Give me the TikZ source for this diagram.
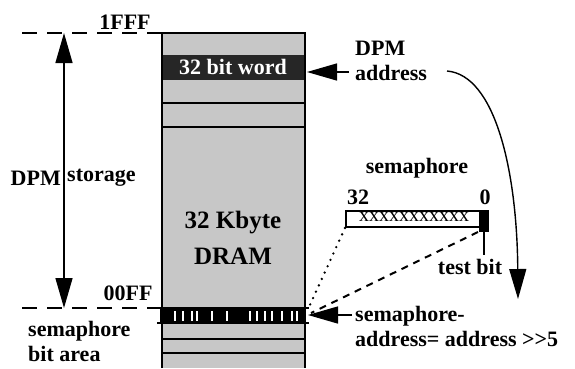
\documentclass[tikz,border=0pt]{standalone}
\usepackage{fontspec}
\setmainfont{Liberation Serif}
\usetikzlibrary{arrows.meta}

\begin{document}
\begin{tikzpicture}[x=1pt,y=-1pt,
  lbl/.style={font=\bfseries\fontsize{22}{25}\selectfont,align=left,inner sep=0pt},
  fat/.style={-{Triangle[length=30pt,width=17pt]},line width=1.4pt},
  levelline/.style={line width=1.2pt,dash pattern=on 15pt off 10pt}]
  \useasboundingbox (0,0) rectangle (575,368);
  % memory column
  \fill[black!22] (162,33) rectangle (305,368);
  \fill[black!85] (162,55) rectangle (305,80);
  \fill[black] (160,308) rectangle (306,323);
  \foreach \x in {175,183,192,197,212,227,250,257,265,272,282,292,297}
    \draw[white,line width=1.6pt] (\x,311) -- (\x,321);
  \foreach \y in {103,127,339,353}
    \draw[line width=1.2pt] (162,\y) -- (305,\y);
  \draw[line width=1.2pt] (157,308) -- (309,308);
  \draw[line width=1.2pt] (157,323) -- (309,323);
  \draw[line width=1.4pt] (162,368) -- (162,33) -- (305,33) -- (305,368);
  \node[lbl,white] (word) at (233,67) {32 bit word};
  \node[lbl,font=\bfseries\fontsize{25}{36}\selectfont,align=center] (dram) at (233,238) {32 Kbyte\\DRAM};
  % levels
  \coordinate (top) at (64,33);
  \coordinate (bot) at (64,308);
  \draw[levelline] (22,33) -- (162,33);
  \draw[levelline] (22,308) -- (162,308);
  \node[lbl] (hi) at (125,22) {1FFF};
  \node[lbl] (lo) at (128,293) {00FF};
  \draw[{Triangle[length=30pt,width=17pt]}-{Triangle[length=30pt,width=17pt]},line width=1.4pt] (top) -- (bot);
  \node[lbl,anchor=east] (dpm) at (61,178) {DPM};
  \node[lbl,anchor=west] (stor) at (67,178) {storage};
  \node[lbl,anchor=west] (bitarea) at (28,341) {semaphore\\bit area};
  % addresses
  \node[lbl,anchor=west] (addr) at (355,61) {DPM\\address};
  \coordinate (wordend) at (307,72);
  \draw[fat] (349,72) -- (wordend);
  \coordinate (cstart) at (447,71);
  \coordinate (cend) at (518,299);
  \draw[fat] (cstart) .. controls (495,75) and (517,170) .. (cend);
  % semaphore word
  \node[lbl] (sem) at (417,168) {semaphore};
  \node[lbl] (b32) at (358,197) {32};
  \node[lbl] (b0) at (485,197) {0};
  \draw[line width=1.2pt,fill=white] (346,211) rectangle (488,227);
  \node[inner sep=0pt,font=\fontsize{20}{20}\selectfont] (xs) at (414,217) {xxxxxxxxxxx};
  \fill[black] (479,210) rectangle (489,232);
  \coordinate (bitfoot) at (484,255);
  \draw[line width=1.4pt] (484,230) -- (bitfoot);
  \node[lbl] (test) at (470,267) {test bit};
  \coordinate (boxleft) at (345,228);
  \coordinate (bitleft) at (478,232);
  \coordinate (rowtop) at (309,307);
  \coordinate (rowmid) at (311,313);
  \draw[line width=2.6pt,line cap=round,dash pattern=on 0pt off 7pt] (boxleft) -- (rowtop);
  \draw[line width=2pt,dash pattern=on 7pt off 6pt] (bitleft) -- (rowmid);
  \node[lbl,anchor=west] (semaddr) at (355,326) {semaphore-\\address= address >{}>5};
  \draw[fat] (352,315) -- (308,315);
\end{tikzpicture}
\end{document}
